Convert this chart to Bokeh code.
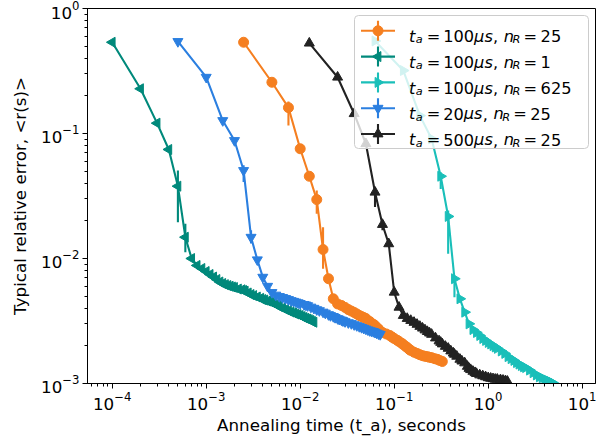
import math
from bokeh.plotting import figure
from bokeh.models import Range1d
from bokeh.core.properties import value
from bokeh.embed import file_html
from bokeh.resources import INLINE

# ---------------- data ----------------
# t_a = 100us, n_R = 25  (orange, circles)
orange_x = [0.0025, 0.005, 0.0075, 0.01, 0.0125, 0.015, 0.0175, 0.02, 0.0225,
            0.025, 0.0275, 0.03, 0.0325, 0.035, 0.0375, 0.04, 0.0425, 0.045, 0.0475, 0.05,
            0.055, 0.06, 0.0625, 0.0675, 0.07, 0.075, 0.0825, 0.09, 0.095, 0.1,
            0.1075, 0.1125, 0.12, 0.125, 0.1325, 0.1375, 0.145, 0.15,
            0.1625, 0.175, 0.1875, 0.2, 0.2125, 0.225, 0.2375, 0.25, 0.27, 0.2875, 0.305, 0.325]
orange_y = [0.537, 0.257, 0.161, 0.0755, 0.0455, 0.0296, 0.0118, 0.00689, 0.00476,
            0.00433, 0.00421, 0.00406, 0.0039, 0.0038, 0.0037, 0.0036, 0.0035, 0.00343, 0.00337, 0.00331,
            0.00313, 0.00298, 0.00291, 0.00275, 0.00265, 0.00256, 0.00249, 0.00242, 0.00235, 0.00229,
            0.00222, 0.00217, 0.0021, 0.00205, 0.00198, 0.00194, 0.00187, 0.00184,
            0.00178, 0.00174, 0.0017, 0.00167, 0.00165, 0.00164, 0.00162, 0.00161, 0.00158, 0.00156, 0.00153, 0.0015]
orange_err_x = [0.0075, 0.015, 0.0175]
orange_err_lo = [0.116, 0.0228, 0.00828]
orange_err_hi = [0.18, 0.035, 0.0178]

# t_a = 100us, n_R = 1  (teal, left triangles)
green_x = [1e-4, 2e-4, 3e-4, 4e-4, 5e-4, 6e-4, 7e-4, 8e-4, 9e-4,
           1.0e-3, 1.1e-3, 1.2e-3, 1.3e-3, 1.4e-3, 1.5e-3, 1.6e-3, 1.7e-3, 1.8e-3, 1.9e-3, 2.0e-3,
           2.2e-3, 2.4e-3, 2.5e-3, 2.6e-3, 2.8e-3, 3.0e-3, 3.2e-3, 3.5e-3, 3.8e-3, 4.0e-3, 4.2e-3,
           4.5e-3, 4.8e-3, 5.0e-3, 5.2e-3, 5.5e-3, 5.8e-3, 6.0e-3, 6.5e-3, 7.0e-3, 7.5e-3, 8.0e-3,
           8.5e-3, 9.0e-3, 9.5e-3,
           1.0e-2, 1.05e-2, 1.1e-2, 1.15e-2, 1.2e-2, 1.25e-2, 1.3e-2, 1.35e-2, 1.4e-2]
green_y = [0.537, 0.228, 0.121, 0.0745, 0.0379, 0.0148, 0.0100, 0.0088, 0.00832,
           0.00787, 0.00745, 0.00711, 0.00679, 0.00649, 0.00631, 0.00618, 0.00608, 0.006, 0.00592, 0.00586,
           0.0057, 0.00562, 0.00555, 0.00548, 0.0053, 0.00515, 0.00505, 0.00492, 0.0048, 0.0047, 0.00465,
           0.00457, 0.0045, 0.00445, 0.0044, 0.00429, 0.0042, 0.00413, 0.00402, 0.00391, 0.00382, 0.00373,
           0.00367, 0.0036, 0.00356,
           0.0035, 0.00343, 0.00337, 0.00332, 0.00328, 0.00324, 0.00319, 0.00314, 0.00309]
green_err_x = [5e-4, 6e-4]
green_err_lo = [0.0195, 0.0112]
green_err_hi = [0.0506, 0.019]

# t_a = 100us, n_R = 625  (cyan, right triangles)
cyan_x = [0.0625, 0.125, 0.1875, 0.25, 0.3125, 0.375, 0.4375, 0.5, 0.5625, 0.625,
          0.6875, 0.75, 0.8125, 0.875, 0.9375, 1.0, 1.0625, 1.125, 1.1875, 1.25,
          1.375, 1.5, 1.625, 1.75, 1.875, 2.0, 2.125, 2.25, 2.375, 2.5,
          2.75, 3.0, 3.25, 3.5, 3.75, 4.0, 4.25, 4.5, 4.75, 5.0]
cyan_y = [0.55, 0.319, 0.139, 0.0907, 0.0455, 0.0217, 0.00689, 0.00476, 0.00372, 0.003,
          0.0027, 0.00256, 0.00242, 0.00229, 0.00221, 0.00213, 0.00207, 0.00201, 0.00196, 0.00191,
          0.00182, 0.00174, 0.00164, 0.00158, 0.00153, 0.00147, 0.00143, 0.00139, 0.00136, 0.00134,
          0.00128, 0.00122, 0.00117, 0.00113, 0.00111, 0.00108, 0.00106, 0.00104, 0.00102, 0.00100]
cyan_err_x = [0.3125, 0.375, 0.4375]
cyan_err_lo = [0.036, 0.0109, 0.0049]
cyan_err_hi = [0.049, 0.0242, 0.0073]

# t_a = 20us, n_R = 25  (blue, down triangles)
blue_x = [5e-4, 1e-3, 1.5e-3, 2e-3, 2.5e-3, 3e-3, 3.5e-3, 4e-3,
          4.5e-3, 5e-3, 5.5e-3, 6e-3, 6.5e-3, 7e-3, 7.5e-3, 8e-3, 8.5e-3, 9e-3, 9.5e-3,
          0.01, 0.011, 0.0115, 0.012, 0.013, 0.014, 0.015, 0.016, 0.0175, 0.0185,
          0.02, 0.021, 0.0225, 0.0235, 0.025, 0.026, 0.0275, 0.0285, 0.03,
          0.0325, 0.035, 0.0375, 0.04, 0.0425, 0.045, 0.0475, 0.05, 0.0525, 0.055,
          0.0575, 0.06, 0.0625, 0.065, 0.068, 0.071]
blue_y = [0.545, 0.282, 0.127, 0.0879, 0.0506, 0.0148, 0.00977, 0.00709,
          0.006, 0.00535, 0.0051, 0.00497, 0.00488, 0.00479, 0.0047, 0.00461, 0.00455, 0.00449, 0.00443,
          0.00437, 0.00429, 0.00425, 0.0042, 0.00409, 0.004, 0.0039, 0.00383, 0.00373, 0.00366,
          0.00356, 0.0035, 0.00344, 0.00338, 0.00331, 0.00327, 0.00322, 0.00318, 0.00313,
          0.00307, 0.00302, 0.00296, 0.00291, 0.00286, 0.00281, 0.00277, 0.00273, 0.00269, 0.00265,
          0.00263, 0.00261, 0.00257, 0.00254, 0.0025, 0.00247]
blue_err_x = [2.5e-3, 3e-3]
blue_err_lo = [0.0409, 0.0132]
blue_err_hi = [0.0556, 0.0168]

# t_a = 500us, n_R = 25  (black, up triangles)
black_x = [0.0125, 0.025, 0.0375, 0.05, 0.0625, 0.075, 0.0875, 0.1, 0.1125,
           0.125, 0.1375, 0.15, 0.1625, 0.175, 0.1875, 0.2, 0.2125, 0.225, 0.2375, 0.25,
           0.275, 0.3, 0.3125, 0.325, 0.35, 0.375, 0.4, 0.425, 0.4375, 0.4625, 0.5,
           0.525, 0.5625, 0.6, 0.625, 0.65, 0.6875, 0.725, 0.75,
           0.8125, 0.875, 0.9375, 1.0, 1.0625, 1.125, 1.1875, 1.25, 1.35, 1.4375, 1.525, 1.6]
black_y = [0.528, 0.282, 0.144, 0.0828, 0.0339, 0.0187, 0.0131, 0.00537, 0.00407,
           0.0035, 0.00331, 0.00319, 0.00308, 0.00297, 0.00286, 0.00277, 0.00268, 0.0026, 0.00253, 0.00247,
           0.00231, 0.00219, 0.00213, 0.00207, 0.00198, 0.00191, 0.00182, 0.00175, 0.00171, 0.00165, 0.00156,
           0.00151, 0.00146, 0.00137, 0.00132, 0.00129, 0.00125, 0.00122, 0.0012,
           0.00117, 0.00115, 0.00113, 0.00111, 0.0011, 0.00109, 0.00108, 0.00108, 0.00107, 0.00106, 0.00105, 0.00104]
black_err_x = [0.0625, 0.075]
black_err_lo = [0.0258, 0.0168]
black_err_hi = [0.0372, 0.0201]

legend_ta = ["100", "100", "100", "20", "500"]
legend_nr = ["25", "1", "625", "25", "25"]

x_label = "Annealing time (t_a), seconds"
y_label = "Typical relative error, <r(s)>"

# ---------------- styles ----------------
C_ORANGE = "#f57f20"
C_TEAL = "#00897b"
C_CYAN = "#1abfb9"
C_BLUE = "#2b7fe0"
C_BLACK = "#222222"
FONT = "DejaVu Sans"
FS = 16.7          # axis font size (px)
LFS = 16.2         # legend font size (px)
SUB = 11.3         # legend subscript font size (px)
LW = 2.1
MS = 10

# frame geometry (pixels)
FL, FR, FT, FB = 87, 595, 8, 383
X0PX, DECPX_X = 111.7, 94.0   # pixel of 1e-4, pixels per decade
DECPX_Y = 125.0


def px2x(px):
    return 10 ** (-4 + (px - X0PX) / DECPX_X)


def px2y(py):
    return 10 ** (-(py - FT) / DECPX_Y)


p = figure(width=612, height=439, x_axis_type="log", y_axis_type="log",
           x_range=Range1d(px2x(FL), px2x(FR)), y_range=Range1d(1e-3, 1.0),
           output_backend="svg", toolbar_location=None,
           min_border_left=FL, min_border_right=612 - FR,
           min_border_top=FT, min_border_bottom=439 - FB)
p.background_fill_color = "white"
p.border_fill_color = "white"
p.outline_line_color = "black"
p.outline_line_width = 1
p.xgrid.visible = False
p.ygrid.visible = False

for ax in (p.xaxis[0], p.yaxis[0]):
    ax.axis_line_color = "black"
    ax.axis_line_width = 1
    ax.major_tick_in = 0
    ax.major_tick_out = 5
    ax.minor_tick_in = 0
    ax.minor_tick_out = 3
    ax.major_tick_line_color = "black"
    ax.minor_tick_line_color = "black"
    ax.major_label_text_font = FONT
    ax.major_label_text_font_size = f"{FS}px"
    ax.major_label_text_color = "black"
    ax.axis_label_text_font = FONT
    ax.axis_label_text_font_size = f"{FS}px"
    ax.axis_label_text_font_style = "normal"
    ax.axis_label_text_color = "black"
    ax.major_label_standoff = 3
p.xaxis.axis_label = x_label
p.yaxis.axis_label = y_label
p.xaxis.axis_label_standoff = 2
p.yaxis.axis_label_standoff = 8

series = [
    (orange_x, orange_y, orange_err_x, orange_err_lo, orange_err_hi, C_ORANGE, "circle", 0.0),
    (green_x, green_y, green_err_x, green_err_lo, green_err_hi, C_TEAL, "triangle", math.pi / 2),
    (cyan_x, cyan_y, cyan_err_x, cyan_err_lo, cyan_err_hi, C_CYAN, "triangle", -math.pi / 2),
    (blue_x, blue_y, blue_err_x, blue_err_lo, blue_err_hi, C_BLUE, "inverted_triangle", 0.0),
    (black_x, black_y, black_err_x, black_err_lo, black_err_hi, C_BLACK, "triangle", 0.0),
]

for xs, ys, ex, elo, ehi, col, mk, ang in series:
    pts = sorted(zip(xs, ys))
    sx = [a for a, _ in pts]
    sy = [b for _, b in pts]
    p.line(sx, sy, line_color=col, line_width=LW)
    p.segment(x0=ex, y0=elo, x1=ex, y1=ehi, line_color=col, line_width=LW)
    p.scatter(sx, sy, marker=mk, angle=ang, size=MS, fill_color=col, line_color=col)

# ---------------- legend (drawn by hand to keep math-style text) ----------------
p.quad(left=[px2x(354)], right=[px2x(588)], top=[px2y(15)], bottom=[px2y(148)],
       fill_color="white", fill_alpha=0.8, line_color="#cccccc", line_width=1,
       border_radius=4)

DIGW = 10.3   # legend digit advance (px)

it_t, it_x, it_y = [], [], []
sb_t, sb_x, sb_y = [], [], []
nm_t, nm_x, nm_y = [], [], []
for i, (ta, nr) in enumerate(zip(legend_ta, legend_nr)):
    _, _, _, _, _, col, mk, ang = series[i]
    yc = 30.3 + 25.8 * i
    p.line([px2x(360.5), px2x(394.5)], [px2y(yc), px2y(yc)], line_color=col, line_width=LW)
    p.segment(x0=[px2x(377.5)], y0=[px2y(yc - 10)], x1=[px2x(377.5)], y1=[px2y(yc + 10)],
              line_color=col, line_width=LW)
    p.scatter([px2x(377.5)], [px2y(yc)], marker=mk, angle=ang, size=MS,
              fill_color=col, line_color=col)
    base = yc + 5.6
    subb = base + 3.4
    x_num = 442.7
    x_mu = x_num + len(ta) * DIGW
    x_n = x_mu + 29.7
    it_t += ["t", "μs", "n"]
    it_x += [408.5, x_mu, x_n]
    it_y += [base, base, base]
    sb_t += ["a", "R"]
    sb_x += [415.3, x_n + 8.8]
    sb_y += [subb, subb]
    nm_t += ["=", ta, ",", "=", nr]
    nm_x += [426.2, x_num, x_mu + 19.0, x_n + 19.8, x_n + 36.8]
    nm_y += [base] * 5

p.text(x=[px2x(v) for v in it_x], y=[px2y(v) for v in it_y], text=it_t,
       text_font=value(FONT), text_font_size=f"{LFS}px", text_font_style="italic",
       text_baseline="alphabetic", text_align="left", text_color="black")
p.text(x=[px2x(v) for v in sb_x], y=[px2y(v) for v in sb_y], text=sb_t,
       text_font=value(FONT), text_font_size=f"{SUB}px", text_font_style="italic",
       text_baseline="alphabetic", text_align="left", text_color="black")
p.text(x=[px2x(v) for v in nm_x], y=[px2y(v) for v in nm_y], text=nm_t,
       text_font=value(FONT), text_font_size=f"{LFS}px", text_font_style="normal",
       text_baseline="alphabetic", text_align="left", text_color="black")

open("out.html", "w").write(file_html(p, INLINE))
